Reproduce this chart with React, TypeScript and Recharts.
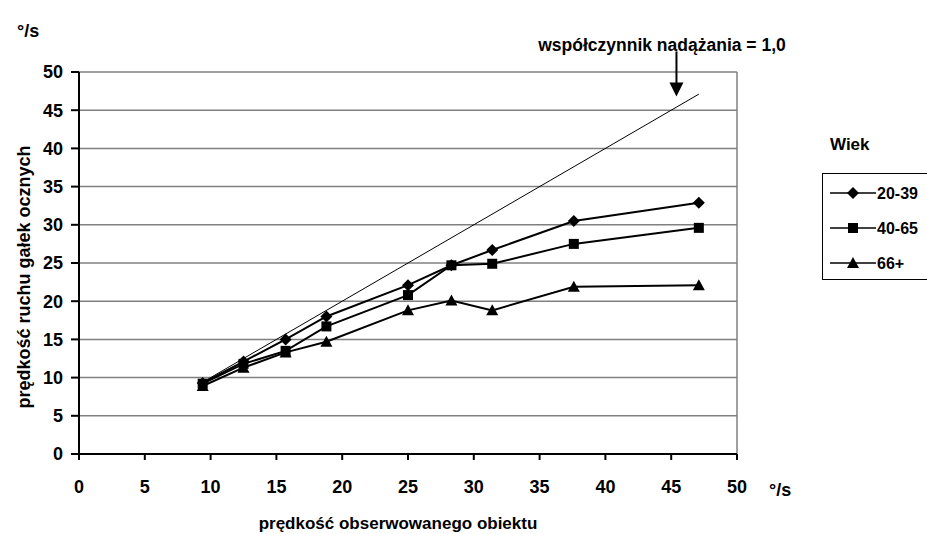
import {
  CartesianGrid,
  Customized,
  Line,
  LineChart,
  ReferenceLine,
  XAxis,
  YAxis,
} from 'recharts'

const speeds = [9.4, 12.5, 15.7, 18.8, 25, 28.3, 31.4, 37.6, 47.1]
const age2039 = [9.3, 12.1, 15.0, 18.0, 22.1, 24.7, 26.7, 30.5, 32.9]
const age4065 = [9.2, 11.8, 13.5, 16.7, 20.8, 24.7, 24.9, 27.5, 29.6]
const age66 = [8.9, 11.3, 13.3, 14.7, 18.8, 20.1, 18.8, 21.9, 22.1]
const ticks = [0, 5, 10, 15, 20, 25, 30, 35, 40, 45, 50]
const seriesNames = ['20-39', '40-65', '66+']
const ratioLine = [9.4, 47.1]
const arrowAt = { x: 45.4, from: 52.7, to: 46.8 }

const data = speeds.map((x, i) => ({
  x,
  a: age2039[i],
  b: age4065[i],
  c: age66[i],
}))

const FONT = "'Liberation Sans', Arial, sans-serif"

function Marker({ kind, cx, cy }: { kind: string; cx: number; cy: number }) {
  if (kind === 'diamond') {
    return <polygon points={`${cx},${cy - 6} ${cx + 6},${cy} ${cx},${cy + 6} ${cx - 6},${cy}`} fill="#000" />
  }
  if (kind === 'square') {
    return <rect x={cx - 5} y={cy - 5} width={10} height={10} fill="#000" />
  }
  return <polygon points={`${cx},${cy - 6} ${cx + 6},${cy + 5} ${cx - 6},${cy + 5}`} fill="#000" />
}

const kinds = ['diamond', 'square', 'triangle']

const dotFor = (kind: string) => (props: any) =>
  props.cx == null ? <g key={props.index} /> : <Marker key={props.index} kind={kind} cx={props.cx} cy={props.cy} />

function Labels() {
  return (
    <g fontFamily={FONT} fontWeight="bold" fill="#000">
      <text x={17} y={37} fontSize={18}>°/s</text>
      <text x={769} y={496} fontSize={18}>°/s</text>
      <text x={398} y={529} fontSize={17} textAnchor="middle">prędkość obserwowanego obiektu</text>
      <text x={30} y={277} fontSize={18} textAnchor="middle" transform="rotate(-90 30 277)">
        prędkość ruchu gałek ocznych
      </text>
      <text x={662} y={51} fontSize={17.5} textAnchor="middle">współczynnik nadążania = 1,0</text>
      {/* legend */}
      <text x={830} y={150} fontSize={17}>Wiek</text>
      <rect x={822.5} y={173.5} width={120} height={106} fill="#fff" stroke="#000" />
      {seriesNames.map((name, i) => {
        const y = 193 + i * 35
        return (
          <g key={name}>
            <line x1={830} x2={876} y1={y} y2={y} stroke="#000" strokeWidth={1.5} />
            <Marker kind={kinds[i]} cx={853} cy={y} />
            <text x={877} y={y + 6} fontSize={16}>
              {name}
            </text>
          </g>
        )
      })}
    </g>
  )
}

function Arrow(props: any) {
  const { x1, y1, x2, y2 } = props
  if (x1 == null) return null
  return (
    <g>
      <line x1={x1} y1={y1} x2={x2} y2={y2 - 12} stroke="#000" strokeWidth={2} />
      <polygon points={`${x2 - 7},${y2 - 14} ${x2 + 7},${y2 - 14} ${x2},${y2}`} fill="#000" />
    </g>
  )
}

export default function App() {
  return (
    <div style={{ position: 'absolute', left: 0, top: 0, background: '#fff' }}>
      <LineChart width={927} height={534} data={data} margin={{ top: 72, right: 190, left: 0, bottom: 50 }}>
        <CartesianGrid vertical={false} stroke="#808080" strokeWidth={1.5} />
        <XAxis
          type="number"
          dataKey="x"
          domain={[0, 50]}
          ticks={ticks}
          height={30}
          tickSize={6}
          axisLine={{ stroke: '#000', strokeWidth: 2 }}
          tickLine={{ stroke: '#000', strokeWidth: 2 }}
          tick={{ fill: '#000', fontSize: 18, fontFamily: FONT, fontWeight: 'bold' }}
          tickMargin={20}
          interval={0}
        />
        <YAxis
          type="number"
          domain={[0, 50]}
          ticks={ticks}
          width={79}
          tickSize={8}
          axisLine={{ stroke: '#000', strokeWidth: 2 }}
          tickLine={{ stroke: '#000', strokeWidth: 2 }}
          tick={{ fill: '#000', fontSize: 18, fontFamily: FONT, fontWeight: 'bold' }}
          tickMargin={8}
          interval={0}
        />
        <ReferenceLine x={50} stroke="#808080" strokeWidth={1.5} />
        <ReferenceLine
          segment={[
            { x: ratioLine[0], y: ratioLine[0] },
            { x: ratioLine[1], y: ratioLine[1] },
          ]}
          stroke="#000"
          strokeWidth={1}
        />
        <ReferenceLine
          segment={[
            { x: arrowAt.x, y: arrowAt.from },
            { x: arrowAt.x, y: arrowAt.to },
          ]}
          ifOverflow="visible"
          shape={Arrow}
        />
        <Line dataKey="a" name={seriesNames[0]} stroke="#000" strokeWidth={2} dot={dotFor('diamond')} isAnimationActive={false} />
        <Line dataKey="b" name={seriesNames[1]} stroke="#000" strokeWidth={2} dot={dotFor('square')} isAnimationActive={false} />
        <Line dataKey="c" name={seriesNames[2]} stroke="#000" strokeWidth={2} dot={dotFor('triangle')} isAnimationActive={false} />
        <Customized component={<Labels />} />
      </LineChart>
    </div>
  )
}
